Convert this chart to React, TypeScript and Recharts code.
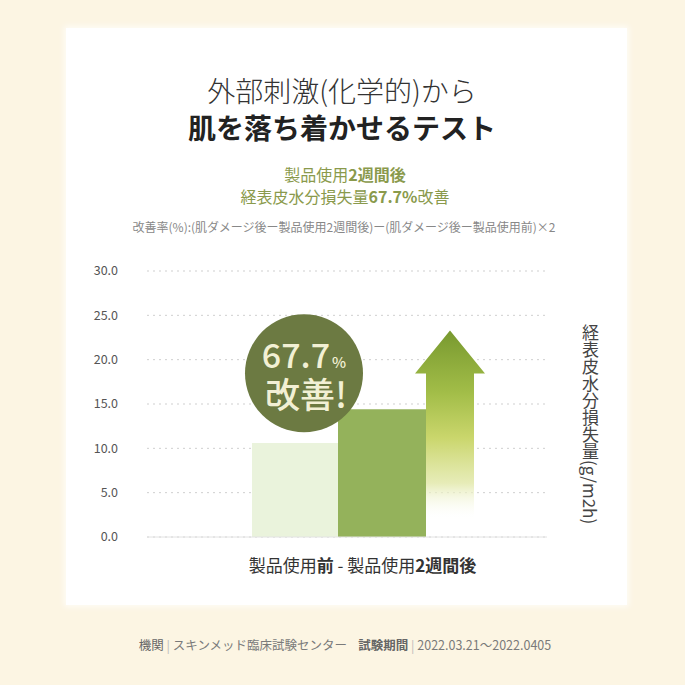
import React from "react";
import {
  BarChart,
  Bar,
  XAxis,
  YAxis,
  CartesianGrid,
  ReferenceLine,
} from "recharts";

// one group on the x axis, three marks inside it
const categories = ["製品使用前 - 製品使用2週間後"];
const beforeValues = [10.6];
const afterValues = [14.4];
const arrowValues = [23.3];
const yTicks = [0, 5, 10, 15, 20, 25, 30];

const chartData = categories.map((name, i) => ({
  name,
  before: beforeValues[i],
  after: afterValues[i],
  arrow: arrowValues[i],
}));

const FONT = '"Noto Sans CJK JP", "Noto Sans", sans-serif';

const XTick = (props: any) => {
  const { x, y } = props;
  return (
    <text
      x={x}
      y={y + 27}
      textAnchor="middle"
      fontSize={17}
      fill="#333"
      fontFamily={FONT}
    >
      <tspan>製品使用</tspan>
      <tspan fontWeight={700}>前</tspan>
      <tspan> - 製品使用</tspan>
      <tspan fontWeight={700}>2週間後</tspan>
    </text>
  );
};

const ArrowShape = (props: any) => {
  const { x, y, width, height } = props;
  const cx = x + width / 2;
  const headH = 43;
  const half = 35;
  const d = `M${cx},${y} L${cx + half},${y + headH} L${x + width},${y + headH} L${x + width},${y + height} L${x},${y + height} L${x},${y + headH} L${cx - half},${y + headH} Z`;
  return <path d={d} fill="url(#arrowGrad)" />;
};

const Badge = (props: any) => {
  const vb = props.viewBox || {};
  const x = props.x ?? vb.x;
  const y = props.y ?? vb.y;
  const cx = x - 34;
  const cy = y - 36;
  return (
    <g fontFamily={FONT} fontWeight={500}>
      <circle cx={cx} cy={cy} r={59} fill="#6c7a42" />
      <text x={cx} y={cy - 5} textAnchor="middle" fill="#f2f0d4">
        <tspan fontSize={34}>67.7</tspan>
        <tspan fontSize={15} dx={2}>
          %
        </tspan>
      </text>
      <text
        x={cx + 2}
        y={cy + 35}
        textAnchor="middle"
        fill="#f2f0d4"
        fontSize={35}
      >
        改善!
      </text>
    </g>
  );
};

export default function App() {
  return (
    <div
      style={{
        position: "absolute",
        left: 0,
        top: 0,
        width: 685,
        height: 685,
        background: "#fcf5e3",
        fontFamily: FONT,
        overflow: "hidden",
      }}
    >
      <div
        style={{
          position: "absolute",
          left: 66,
          top: 28,
          width: 561,
          height: 577,
          background: "#ffffff",
          boxShadow: "0 0 6px 2px rgba(255,255,255,0.7)",
        }}
      />
      <div
        style={{
          position: "absolute",
          left: 0,
          width: 684,
          top: 72,
          textAlign: "center",
          fontSize: 28,
          lineHeight: "37px",
          color: "#333",
        }}
      >
        <div style={{ fontWeight: 300 }}>外部刺激(化学的)から</div>
        <div style={{ fontWeight: 700, color: "#222" }}>
          肌を落ち着かせるテスト
        </div>
      </div>
      <div
        style={{
          position: "absolute",
          left: 0,
          width: 690,
          top: 163,
          textAlign: "center",
          fontSize: 16,
          lineHeight: "22px",
          color: "#8a9a4c",
        }}
      >
        <div>
          製品使用<b>2週間後</b>
        </div>
        <div>
          経表皮水分損失量<b>67.7%</b>改善
        </div>
      </div>
      <div
        style={{
          position: "absolute",
          left: 0,
          width: 688,
          top: 219,
          textAlign: "center",
          fontSize: 12,
          lineHeight: "16px",
          color: "#888",
        }}
      >
        改善率(%):(肌ダメージ後ー製品使用2週間後)ー(肌ダメージ後ー製品使用前)×2
      </div>

      <div style={{ position: "absolute", left: 80, top: 255 }}>
        <BarChart
          width={530}
          height={330}
          data={chartData}
          margin={{ top: 16, right: 63, bottom: 0, left: 0 }}
          barGap={0}
        >
          <defs>
            <linearGradient id="arrowGrad" x1="0" y1="0" x2="0" y2="1">
              <stop offset="0%" stopColor="#78992f" />
              <stop offset="30%" stopColor="#a2bd48" />
              <stop offset="52%" stopColor="#cad66c" />
              <stop offset="74%" stopColor="#e4eab0" stopOpacity={0.9} />
              <stop offset="92%" stopColor="#ffffff" stopOpacity={0} />
              <stop offset="100%" stopColor="#ffffff" stopOpacity={0} />
            </linearGradient>
          </defs>
          <CartesianGrid
            vertical={false}
            stroke="#cfcfcf"
            strokeDasharray="2 4"
          />
          <XAxis
            dataKey="name"
            height={48}
            axisLine={false}
            tickLine={false}
            tick={<XTick />}
            padding={{ left: 31, right: 0 }}
          />
          <YAxis
            width={67}
            domain={[0, 30]}
            ticks={yTicks}
            axisLine={false}
            tickLine={false}
            tickMargin={23}
            tickFormatter={(v: number) => v.toFixed(1)}
            tick={{ fontSize: 12.5, fill: "#555", fontFamily: FONT }}
          />
          <ReferenceLine y={0} stroke="#e2e2e2" strokeWidth={1} />
          <Bar
            dataKey="before"
            barSize={86}
            fill="#eaf3dc"
            isAnimationActive={false}
          />
          <Bar
            dataKey="after"
            barSize={88}
            fill="#94b25b"
            isAnimationActive={false}
            label={<Badge />}
          />
          <Bar
            dataKey="arrow"
            barSize={48}
            shape={<ArrowShape />}
            isAnimationActive={false}
          />
        </BarChart>
      </div>

      <div
        style={{
          position: "absolute",
          left: 580,
          top: 324,
          writingMode: "vertical-rl",
          textOrientation: "mixed",
          fontSize: 17,
          lineHeight: "20px",
          color: "#444",
        }}
      >
        経表皮水分損失量(g/m2h)
      </div>

      <div
        style={{
          position: "absolute",
          left: 0,
          width: 690,
          top: 637,
          textAlign: "center",
          fontSize: 12.5,
          lineHeight: "16px",
          color: "#7a7a7a",
          whiteSpace: "pre",
        }}
      >
        <span style={{ color: "#666" }}>機関</span>
        <span style={{ color: "#bbb" }}> | </span>
        スキンメッド臨床試験センター{"    "}
        <b style={{ color: "#666" }}>試験期間</b>
        <span style={{ color: "#bbb" }}> | </span>
        2022.03.21～2022.0405
      </div>
    </div>
  );
}
